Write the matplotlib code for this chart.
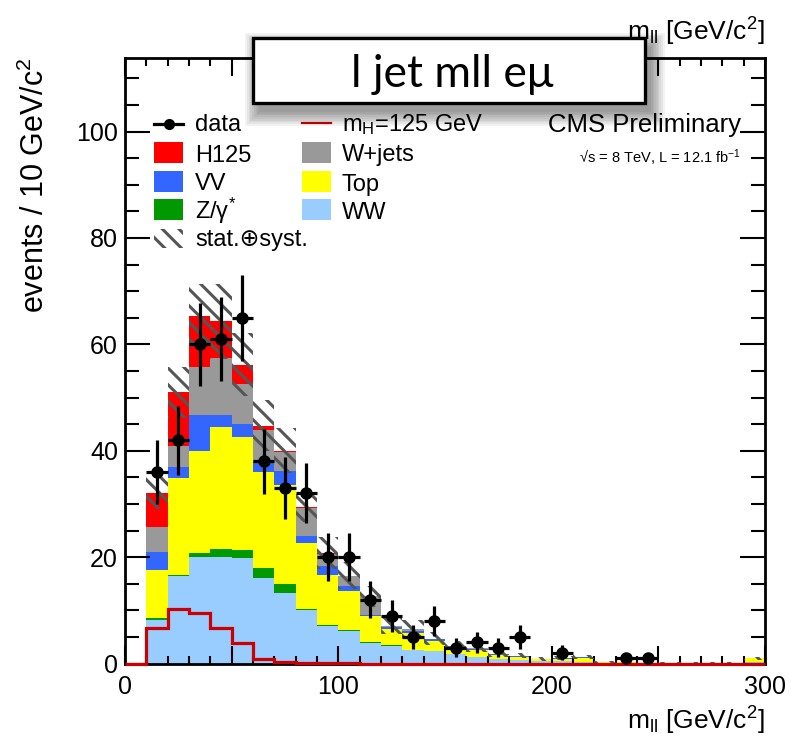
import numpy as np
import matplotlib
matplotlib.use('Agg')
import matplotlib.pyplot as plt
from matplotlib.patches import Rectangle
from matplotlib.lines import Line2D
from matplotlib.ticker import MultipleLocator, FixedLocator, FuncFormatter

# ---------------- data (10 GeV bins, 0-300) ----------------
bin_edges = np.arange(0, 310, 10)
ww = [0, 8.2, 16.4, 20.1, 20.1, 19.9, 16.1, 13.3, 10.0, 7.1, 6.2, 3.9, 3.3, 2.5, 2.3,
      1.7, 1.3, 0.8, 0.6, 0.4, 0.4, 0.3, 0.1, 0.1, 0.05, 0.05, 0.05, 0.05, 0.05, 0.2]
zg = [0, 0.4, 0.2, 0.7, 1.4, 1.5, 1.8, 1.7, 0.3, 0.2, 0.1, 0.1, 0.1, 0.1, 0.05,
      0.05, 0, 0, 0, 0, 0, 0, 0, 0, 0, 0, 0, 0, 0, 0]
top = [0, 8.9, 18.2, 19.2, 22.9, 21.2, 18.1, 18.5, 12.3, 9.4, 7.3, 4.9, 3.0, 3.2, 1.8,
       1.2, 1.3, 0.8, 0.7, 0.4, 0.5, 0.8, 0.2, 0.1, 0.05, 0.05, 0.05, 0.05, 0.05, 0.8]
vv = [0, 3.5, 2.1, 6.7, 2.3, 2.5, 2.0, 2.6, 1.4, 1.6, 1.0, 0.3, 0.5, 0.4, 0.4,
      0.4, 0.2, 0.1, 0.1, 0.1, 0.1, 0.1, 0.05, 0, 0, 0, 0, 0, 0, 0]
wjets = [0, 4.6, 4.0, 9.0, 10.8, 7.4, 5.9, 3.6, 5.2, 2.3, 1.8, 3.4, 0.1, 0.2, 0.1,
         0.0, 0.2, 0.1, 0.1, 0, 0, 0, 0, 0, 0, 0, 0, 0, 0, 0]
h125 = [0, 6.4, 10.1, 9.6, 6.8, 3.7, 0.8, 0.3, 0.2, 0.1, 0.1, 0, 0, 0, 0,
        0, 0, 0, 0, 0, 0, 0, 0, 0, 0, 0, 0, 0, 0, 0]
mh_line = [0, 6.6, 10.2, 9.4, 6.6, 3.8, 0.8, 0.2, 0.1, 0.05, 0.05, 0, 0, 0, 0,
           0, 0, 0, 0, 0, 0, 0, 0, 0, 0, 0, 0, 0, 0, 0]
data = [0, 36, 42, 60, 61, 65, 38, 33, 32, 20, 20, 12, 9, 5, 8,
        3, 4, 3, 5, 0, 2, 0, 0, 1, 1, 0, 0, 0, 0, 0]
syst = [0, 3.0, 4.8, 6.0, 7.0, 6.0, 4.8, 4.2, 2.8, 3.0, 2.5, 2.0, 1.5, 1.8, 1.2,
        0.8, 0.8, 0.6, 0.5, 0.4, 0.4, 0.4, 0.2, 0.1, 0.1, 0.1, 0.1, 0.1, 0.1, 0.3]

stack_names = ['WW', 'Z/γ$^{*}$', 'Top', 'VV', 'W+jets', 'H125']
stack_vals = [ww, zg, top, vv, wjets, h125]
stack_cols = ['#99ccff', '#009900', '#ffff00', '#3366ff', '#999999', '#ff0000']

# ---------------- style ----------------
plt.rcParams['font.family'] = ['Liberation Sans', 'DejaVu Sans']
plt.rcParams['mathtext.fontset'] = 'custom'
plt.rcParams['mathtext.rm'] = 'Liberation Sans'
plt.rcParams['mathtext.it'] = 'Liberation Sans:italic'
plt.rcParams['hatch.color'] = '#555555'
plt.rcParams['hatch.linewidth'] = 2.2

HATCH = '\\\\'

W, H, DPI = 791, 749, 100
fig = plt.figure(figsize=(W / DPI, H / DPI), dpi=DPI)


def fx(px):
    return px / W


def fy(py):
    return 1 - py / H


ax = fig.add_axes([fx(125), fy(663.5), fx(765) - fx(125), fy(57.5) - fy(663.5)])

edges = bin_edges
base = np.zeros(len(edges) - 1)
for vals, col in zip(stack_vals, stack_cols):
    v = np.asarray(vals, dtype=float)
    ax.stairs(base + v, edges, baseline=base.copy(), fill=True, color=col,
              linewidth=0, zorder=1)
    base = base + v
total = base
err = np.asarray(syst, dtype=float)
ax.stairs(total + err, edges, baseline=np.clip(total - err, 0, None), fill=True,
          facecolor='none', edgecolor='#555555', hatch=HATCH, linewidth=0, zorder=2)

ax.stairs(np.asarray(mh_line), edges, color='#cc0000', linewidth=2.3, zorder=3,
          clip_on=False, baseline=None)

d = np.asarray(data, dtype=float)
centers = 0.5 * (edges[:-1] + edges[1:])
m = d > 0
ax.errorbar(centers[m], d[m], yerr=np.sqrt(d[m]), xerr=5, fmt='o', color='black',
            markersize=8, elinewidth=2.3, capsize=0, zorder=4)

ax.set_xlim(0, 300)
ax.set_ylim(0, (663.5 - 57.5) / 5.32)

ax.xaxis.set_major_locator(FixedLocator([0, 50, 100, 150, 200, 250, 300]))
ax.xaxis.set_major_formatter(FuncFormatter(lambda v, p: f'{int(v)}' if int(v) % 100 == 0 else ''))
ax.xaxis.set_minor_locator(MultipleLocator(10))
ax.yaxis.set_major_locator(MultipleLocator(20))
ax.yaxis.set_minor_locator(MultipleLocator(5))
ax.tick_params(which='both', direction='in', top=True, right=True, width=1.5, colors='black')
ax.tick_params(axis='x', which='major', length=13, pad=8, labelsize=18)
ax.tick_params(axis='x', which='minor', length=6)
ax.tick_params(axis='y', which='major', length=18, pad=5, labelsize=18)
ax.tick_params(axis='y', which='minor', length=10)
for s in ax.spines.values():
    s.set_linewidth(2.0)

# axis titles
fig.text(fx(765), fy(730), r'm$_{\mathrm{ll}}$ [GeV/c$^{2}$]', ha='right', va='baseline', fontsize=19)
fig.text(fx(765), fy(41), r'm$_{\mathrm{ll}}$ [GeV/c$^{2}$]', ha='right', va='baseline', fontsize=19)
fig.text(fx(35), fy(57), r'events / 10 GeV/c$^{2}$', ha='center', va='top', rotation=90, fontsize=22)

# CMS labels
fig.text(fx(741), fy(132), 'CMS Preliminary', ha='right', va='baseline', fontsize=18.5)
fig.text(fx(741), fy(163), '√s = 8 TeV, L = 12.1 fb$^{-1}$', ha='right', va='baseline', fontsize=10.5)

# ---------------- legend ----------------
def add_rect(x0, y0, x1, y1, **kw):
    r = Rectangle((fx(x0), fy(y1)), fx(x1) - fx(x0), fy(y0) - fy(y1),
                  transform=fig.transFigure, **kw)
    fig.add_artist(r)
    return r

leg_fs = 17
# data entry
fig.add_artist(Line2D([fx(154), fx(183)], [fy(124), fy(124)], transform=fig.transFigure,
                      color='black', lw=2.3))
fig.add_artist(Line2D([fx(168.5)], [fy(124)], transform=fig.transFigure, marker='o',
                      color='black', markersize=7))
fig.text(fx(195), fy(131), 'data', ha='left', va='baseline', fontsize=leg_fs)
# mH line
fig.add_artist(Line2D([fx(302), fx(331)], [fy(123), fy(123)], transform=fig.transFigure,
                      color='#cc0000', lw=1.6))
fig.text(fx(342), fy(131), r'm$_{\mathrm{H}}$=125 GeV', ha='left', va='baseline', fontsize=leg_fs)

col1 = [('H125', '#ff0000'), ('VV', '#3366ff'), ('Z/γ$^{*}$', '#009900')]
col2 = [('W+jets', '#999999'), ('Top', '#ffff00'), ('WW', '#99ccff')]
row_y = [152, 181, 209.5]
for (lab, c), yc in zip(col1, row_y):
    add_rect(154, yc - 10.5, 183, yc + 10.5, facecolor=c, edgecolor='none')
    fig.text(fx(195), fy(yc + 9.5), lab, ha='left', va='baseline', fontsize=leg_fs)
for (lab, c), yc in zip(col2, row_y):
    add_rect(302, yc - 10.5, 331, yc + 10.5, facecolor=c, edgecolor='none')
    fig.text(fx(342), fy(yc + 9.5), lab, ha='left', va='baseline', fontsize=leg_fs)
add_rect(154, 229, 183, 248, facecolor='none', edgecolor='#555555', hatch=HATCH, linewidth=0)
fig.text(fx(195), fy(246.5), 'stat.⊕syst.', ha='left', va='baseline', fontsize=leg_fs,
         family=['Liberation Sans', 'DejaVu Sans'])

# ---------------- title box with shadow ----------------
for i in range(9):
    g = i * 1.7
    add_rect(253 + 6 - g, 37.7 + 9 - g, 645 + 6 + g, 103 + 9 + g,
             facecolor='black', edgecolor='none', alpha=0.05, zorder=9)
add_rect(253, 37.7, 645, 103, facecolor='white', edgecolor='black', linewidth=2.4, zorder=10)
fig.text(fx(452), fy(86.7), 'l jet mll eμ', ha='center', va='baseline', fontsize=32,
         family=['Lato', 'DejaVu Sans'], zorder=11)

fig.savefig('out.png', dpi=DPI)
